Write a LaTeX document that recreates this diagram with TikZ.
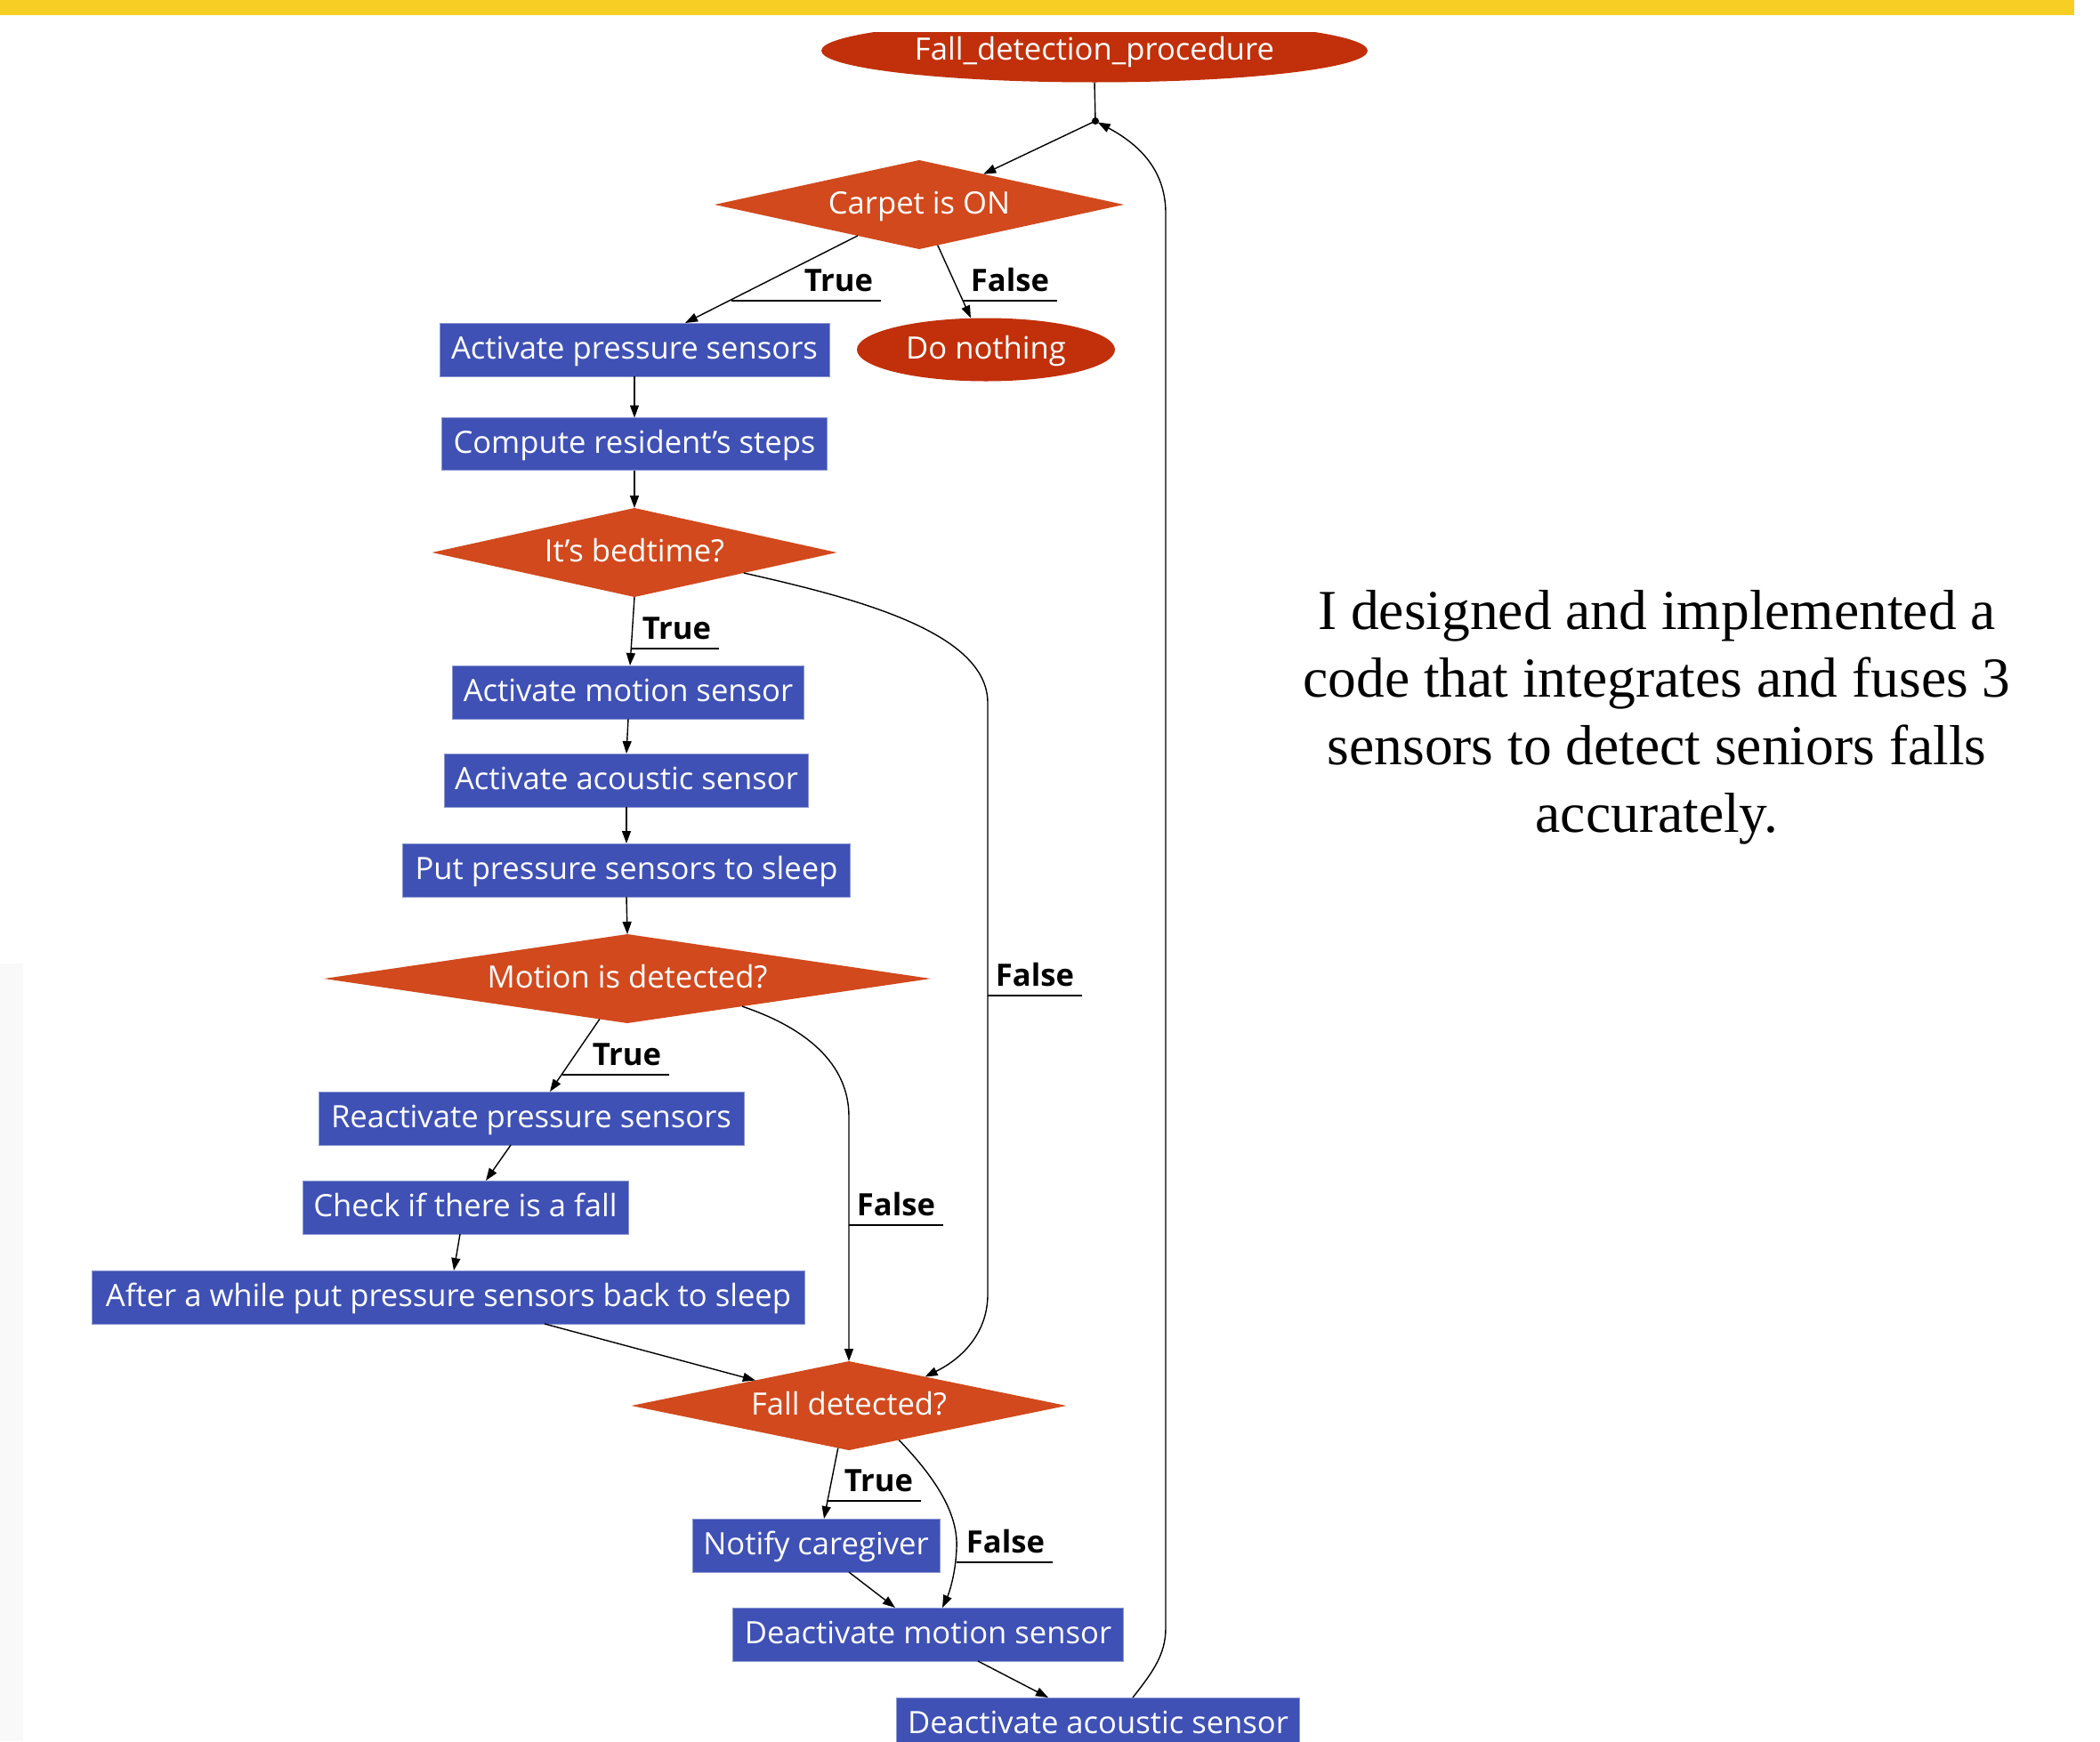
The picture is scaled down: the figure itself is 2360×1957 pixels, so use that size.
\documentclass[tikz,border=0pt]{standalone}
\usepackage{fontspec}
\setmainfont{Open Sans}
\newfontfamily\serifx{Liberation Serif}
\usetikzlibrary{shapes.geometric,arrows.meta,calc}
\definecolor{termred}{RGB}{193,48,10}
\definecolor{decred}{RGB}{209,73,29}
\definecolor{boxblue}{RGB}{63,81,181}
\definecolor{boxedge}{RGB}{140,152,210}
\definecolor{baryellow}{RGB}{247,206,35}
\definecolor{stripgray}{RGB}{249,249,249}
\begin{document}
\begin{tikzpicture}[x=1pt,y=-1pt,
  every node/.style={inner sep=0pt, outer sep=0pt},
  txt/.style={font=\fontsize{34.6pt}{40pt}\selectfont, text=white, text height=27pt, text depth=7pt},
  proc/.style={txt, rectangle, fill=boxblue, draw=boxedge, line width=1pt, minimum height=60pt},
  term/.style={txt, ellipse, fill=termred},
  dec/.style={txt, diamond, fill=decred, minimum height=100pt},
  flow/.style={line width=1.4pt, -{Triangle[length=14pt,width=10pt]}},
  plainline/.style={line width=1.4pt},
  lbl/.style={font=\fontsize{34.6pt}{40pt}\selectfont\bfseries, inner xsep=9pt, inner ysep=10pt, anchor=south east},
  uline/.style={line width=1.4pt}
]
\useasboundingbox (0,0) rectangle (2360,1957);
\fill[white] (0,0) rectangle (2360,1957);
\fill[baryellow] (0,0) rectangle (2331,17);
\fill[stripgray] (0,1083) rectangle (26,1957);

% nodes
\begin{scope}
  \clip (0,36) rectangle (2360,300);
  \node[term, minimum width=614pt, minimum height=71pt] (start) at (1230,57) {Fall\_detection\_procedure};
\end{scope}
\coordinate (j) at (1231,136);
\fill (j) circle (4pt);

\node[dec, minimum width=460pt, aspect=4.6] (carpet) at (1033,230) {Carpet is ON};
\node[proc, minimum width=438pt] (aps) at (713,393) {Activate pressure sensors};
\node[term, minimum width=290pt, minimum height=71pt] (nothing) at (1108,393) {Do nothing};
\node[proc, minimum width=433pt, minimum height=59pt] (crs) at (713,499) {Compute resident’s steps};
\node[dec, minimum width=455pt, aspect=4.55] (bed) at (713,621) {It’s bedtime?};
\node[proc, minimum width=395pt] (ams) at (706,778) {Activate motion sensor};
\node[proc, minimum width=409pt] (aas) at (704,877) {Activate acoustic sensor};
\node[proc, minimum width=503pt] (pps) at (704,978) {Put pressure sensors to sleep};
\node[dec, minimum width=682pt, aspect=6.82] (motion) at (705,1100) {Motion is detected?};
\node[proc, minimum width=478pt] (rps) at (597,1257) {Reactivate pressure sensors};
\node[proc, minimum width=366pt] (check) at (523,1357) {Check if there is a fall};
\node[proc, minimum width=801pt] (after) at (504,1458) {After a while put pressure sensors back to sleep};
\node[dec, minimum width=489pt, aspect=4.89] (fall) at (954,1580) {Fall detected?};
\node[proc, minimum width=278pt] (notify) at (917,1737) {Notify caregiver};
\node[proc, minimum width=439pt] (dms) at (1043,1837) {Deactivate motion sensor};
\node[proc, minimum width=453pt] (das) at (1234,1938) {Deactivate acoustic sensor};

\node[font=\serifx\fontsize{63.5pt}{76pt}\selectfont, align=center, text=black] (blurb) at (1862,806)
  {I designed and implemented a\\code that integrates and fuses 3\\sensors to detect seniors falls\\accurately.};

% connectors
\draw[plainline] (start.south) -- (j);
\draw[flow] (j) -- (carpet);
\draw[flow] (carpet) -- ([xshift=57pt]aps.north);
\draw[flow] (carpet) -- ([xshift=-17pt]nothing.north);
\draw[flow] (aps) -- (crs);
\draw[flow] (crs) -- (bed);
\draw[flow] (bed.south) -- ([xshift=2pt]ams.north);
\draw[flow] ($(bed.east)!0.46!(bed.south)$) .. controls (960,672) and (1110,710) .. (1110,790)
   -- (1110,1455) .. controls (1110,1495) and (1085,1525) .. ($(fall.north)!0.35!(fall.east)$);
\draw[flow] (ams.south) -- (aas.north);
\draw[flow] (aas.south) -- (pps.north);
\draw[flow] (pps.south) -- (motion.north);
\draw[flow] (motion) -- ([xshift=21pt]rps.north);
\draw[flow] ($(motion.east)!0.622!(motion.south)$) .. controls (905,1155) and (954,1195) .. (954,1255) -- (fall.north);
\draw[flow] ([xshift=-23pt]rps.south) -- ([xshift=23pt]check.north);
\draw[flow] ([xshift=-6pt]check.south) -- ([xshift=6pt]after.north);
\draw[flow] ([xshift=108pt]after.south) -- ($(fall.west)!0.57!(fall.north)$);
\draw[flow] ($(fall.south)!0.05!(fall.west)$) -- ([xshift=9pt]notify.north);
\draw[flow] ($(fall.south)!0.23!(fall.east)$) .. controls (1050,1660) and (1077,1700) .. (1075,1740)
   .. controls (1074,1770) and (1066,1792) .. ([xshift=16pt]dms.north);
\draw[flow] ([xshift=37pt]notify.south) -- ([xshift=-37pt]dms.north);
\draw[flow] ([xshift=56pt]dms.south) -- ([xshift=-56pt]das.north);
\draw[flow, shorten >=3pt] ([xshift=39pt]das.north) .. controls (1295,1880) and (1310,1860) .. (1310,1830)
   -- (1310,240) .. controls (1310,195) and (1285,165) .. (j);

% edge labels
\node[lbl] (t1) at (990,338) {True};
\draw[uline] (822,338) -- (t1.south east);
\node[lbl] (f1) at (1188,338) {False};
\draw[uline] (1083,338) -- (f1.south east);
\node[lbl] (t2) at (808,729) {True};
\draw[uline] (709,729) -- (t2.south east);
\node[lbl] (f2) at (1216,1119) {False};
\draw[uline] (1110,1119) -- (f2.south east);
\node[lbl] (t3) at (752,1208) {True};
\draw[uline] (632,1208) -- (t3.south east);
\node[lbl] (f3) at (1060,1377) {False};
\draw[uline] (954,1377) -- (f3.south east);
\node[lbl] (t4) at (1035,1687) {True};
\draw[uline] (929,1687) -- (t4.south east);
\node[lbl] (f4) at (1183,1756) {False};
\draw[uline] (1075,1756) -- (f4.south east);
\end{tikzpicture}
\end{document}
